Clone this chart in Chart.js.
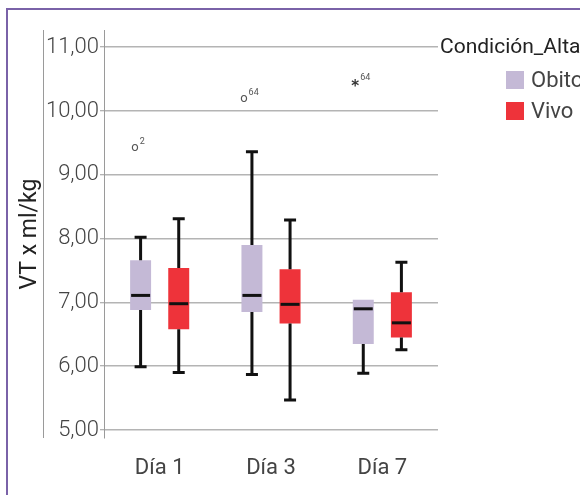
<!DOCTYPE html>
<html>
<head>
<meta charset="utf-8">
<script src="https://cdn.jsdelivr.net/npm/chart.js@4"></script>
<style>
  html, body { margin: 0; padding: 0; background: #fff; overflow: hidden; }
  #wrap { position: relative; width: 580px; height: 495px; overflow: hidden; }
  #chart { position: absolute; left: 0; top: 0; }
  .frame-left { position: absolute; left: 6px; top: 8px; width: 2px; height: 490px; background: #7a62a8; }
  .frame-top { position: absolute; left: 6px; top: 8px; width: 580px; height: 2px; background: #7a62a8; }
  .legend { position: absolute; left: 440px; top: 32px; font-family: Roboto, sans-serif; white-space: nowrap; color: #222; }
  .legend-title { font-size: 21px; line-height: 28px; }
  .legend-item { position: absolute; left: 66px; font-size: 22px; line-height: 22px; color: #444; }
  .legend-item span.box { position: absolute; left: 0; top: 2px; width: 18px; height: 18px; }
  .legend-item span.text { position: absolute; left: 25px; top: 0; }
</style>
</head>
<body>
<div id="wrap">
  <canvas id="chart" width="580" height="495"></canvas>
  <div class="frame-left"></div>
  <div class="frame-top"></div>
  <div class="legend">
    <div class="legend-title">Condición_Alta</div>
    <div class="legend-item" style="top:37px"><span class="box" style="background:#c4b9d6"></span><span class="text">Obito</span></div>
    <div class="legend-item" style="top:68px"><span class="box" style="background:#ee333a"></span><span class="text">Vivo</span></div>
  </div>
</div>
<script>
const categories = ["Día 1", "Día 3", "Día 7"];
const yTicks = [5, 6, 7, 8, 9, 10, 11];

const obitoMin = [5.99, 5.87, 5.89];
const obitoQ1 = [6.88, 6.85, 6.35];
const obitoMedian = [7.11, 7.11, 6.90];
const obitoQ3 = [7.66, 7.90, 7.04];
const obitoMax = [8.02, 9.36, 7.04];

const vivoMin = [5.90, 5.47, 6.26];
const vivoQ1 = [6.58, 6.67, 6.45];
const vivoMedian = [6.98, 6.97, 6.68];
const vivoQ3 = [7.54, 7.52, 7.16];
const vivoMax = [8.31, 8.29, 7.63];

// outliers of the Obito group: category index, value, marker, case number
const obitoOutlierCat = [0, 1, 2];
const obitoOutlierValue = [9.42, 10.20, 10.42];
const obitoOutlierMark = ["o", "o", "*"];
const obitoOutlierCase = ["2", "64", "64"];

const stats = [
    { min: obitoMin, median: obitoMedian, max: obitoMax },
    { min: vivoMin, median: vivoMedian, max: vivoMax },
];

const boxplotParts = {
    id: "boxplotParts",
    afterDatasetsDraw(chart) {
        const ctx = chart.ctx;
        const y = chart.scales.y;
        ctx.save();
        ctx.strokeStyle = "#111";
        ctx.lineWidth = 3;
        ctx.lineCap = "butt";
        stats.forEach((s, di) => {
            const meta = chart.getDatasetMeta(di);
            const ds = chart.data.datasets[di];
            meta.data.forEach((bar, i) => {
                const x = bar.x;
                const w = bar.width;
                const [q1, q3] = ds.data[i];
                const capHalf = 6;
                // upper whisker
                if (s.max[i] > q3) {
                    ctx.beginPath();
                    ctx.moveTo(x, y.getPixelForValue(q3));
                    ctx.lineTo(x, y.getPixelForValue(s.max[i]));
                    ctx.moveTo(x - capHalf, y.getPixelForValue(s.max[i]));
                    ctx.lineTo(x + capHalf, y.getPixelForValue(s.max[i]));
                    ctx.stroke();
                }
                // lower whisker
                if (s.min[i] < q1) {
                    ctx.beginPath();
                    ctx.moveTo(x, y.getPixelForValue(q1));
                    ctx.lineTo(x, y.getPixelForValue(s.min[i]));
                    ctx.moveTo(x - capHalf, y.getPixelForValue(s.min[i]));
                    ctx.lineTo(x + capHalf, y.getPixelForValue(s.min[i]));
                    ctx.stroke();
                }
                // median
                ctx.beginPath();
                ctx.moveTo(x - w / 2 + 1, y.getPixelForValue(s.median[i]));
                ctx.lineTo(x + w / 2 - 1, y.getPixelForValue(s.median[i]));
                ctx.stroke();
            });
        });

        // outliers
        const meta0 = chart.getDatasetMeta(0);
        obitoOutlierValue.forEach((v, k) => {
            const bar = meta0.data[obitoOutlierCat[k]];
            const py = y.getPixelForValue(v);
            const isStar = obitoOutlierMark[k] === "*";
            const markFont = isStar ? "bold 15px 'DejaVu Sans', sans-serif" : "13px Roboto, sans-serif";
            ctx.font = markFont;
            const mw = ctx.measureText(obitoOutlierMark[k]).width;
            ctx.font = "9px Roboto, sans-serif";
            const lw = ctx.measureText(obitoOutlierCase[k]).width;
            const startX = bar.x - (mw + lw) / 2 - 3;
            ctx.textBaseline = "middle";
            ctx.textAlign = "left";
            ctx.fillStyle = isStar ? "#333" : "#555";
            ctx.font = markFont;
            ctx.fillText(obitoOutlierMark[k], startX, py + (isStar ? 3 : 0));
            ctx.fillStyle = "#555";
            ctx.font = "9px Roboto, sans-serif";
            ctx.fillText(obitoOutlierCase[k], startX + mw + 1, py - 6);
        });

        // SPSS style frame line left of the tick labels
        const a = chart.chartArea;
        ctx.strokeStyle = "#9a9a9a";
        ctx.lineWidth = 1;
        ctx.beginPath();
        ctx.moveTo(43.5, a.top);
        ctx.lineTo(43.5, a.bottom);
        ctx.stroke();
        ctx.restore();
    },
};

new Chart(document.getElementById("chart"), {
    type: "bar",
    data: {
        labels: categories,
        datasets: [
            {
                label: "Obito",
                data: obitoQ1.map((q1, i) => [q1, obitoQ3[i]]),
                backgroundColor: "#c4b9d6",
                borderWidth: 0,
                borderSkipped: false,
                categoryPercentage: 0.685,
                barPercentage: 0.55,
            },
            {
                label: "Vivo",
                data: vivoQ1.map((q1, i) => [q1, vivoQ3[i]]),
                backgroundColor: "#ee333a",
                borderWidth: 0,
                borderSkipped: false,
                categoryPercentage: 0.685,
                barPercentage: 0.55,
            },
        ],
    },
    options: {
        responsive: false,
        animation: false,
        layout: { padding: { top: 30, right: 142, left: 0, bottom: 0 } },
        plugins: {
            legend: { display: false },
            tooltip: { enabled: false },
        },
        scales: {
            x: {
                grid: { display: false, drawTicks: false },
                border: { display: false },
                ticks: {
                    color: "#444",
                    padding: 17,
                    font: { family: "Roboto", size: 22 },
                },
                afterFit(scale) { scale.height = 57; },
            },
            y: {
                min: 4.875,
                max: 11.27,
                afterBuildTicks(scale) {
                    scale.ticks = yTicks.map((v) => ({ value: v }));
                },
                ticks: {
                    color: "#444",
                    padding: 1,
                    font: { family: "Roboto", size: 22, weight: 300 },
                    callback: (v) => v.toFixed(2).replace(".", ","),
                },
                grid: {
                    color: "#b4b4b4",
                    lineWidth: 1.5,
                    tickLength: 4,
                    tickColor: "#9a9a9a",
                    tickWidth: 1,
                },
                border: { display: true, color: "#9a9a9a", width: 1 },
                title: {
                    display: true,
                    text: "VT x ml/kg",
                    color: "#222",
                    font: { family: "Roboto", size: 23 },
                    padding: { top: 16, bottom: 0 },
                },
                afterFit(scale) { scale.width = 104; },
            },
        },
    },
    plugins: [boxplotParts],
});
</script>
</body>
</html>
